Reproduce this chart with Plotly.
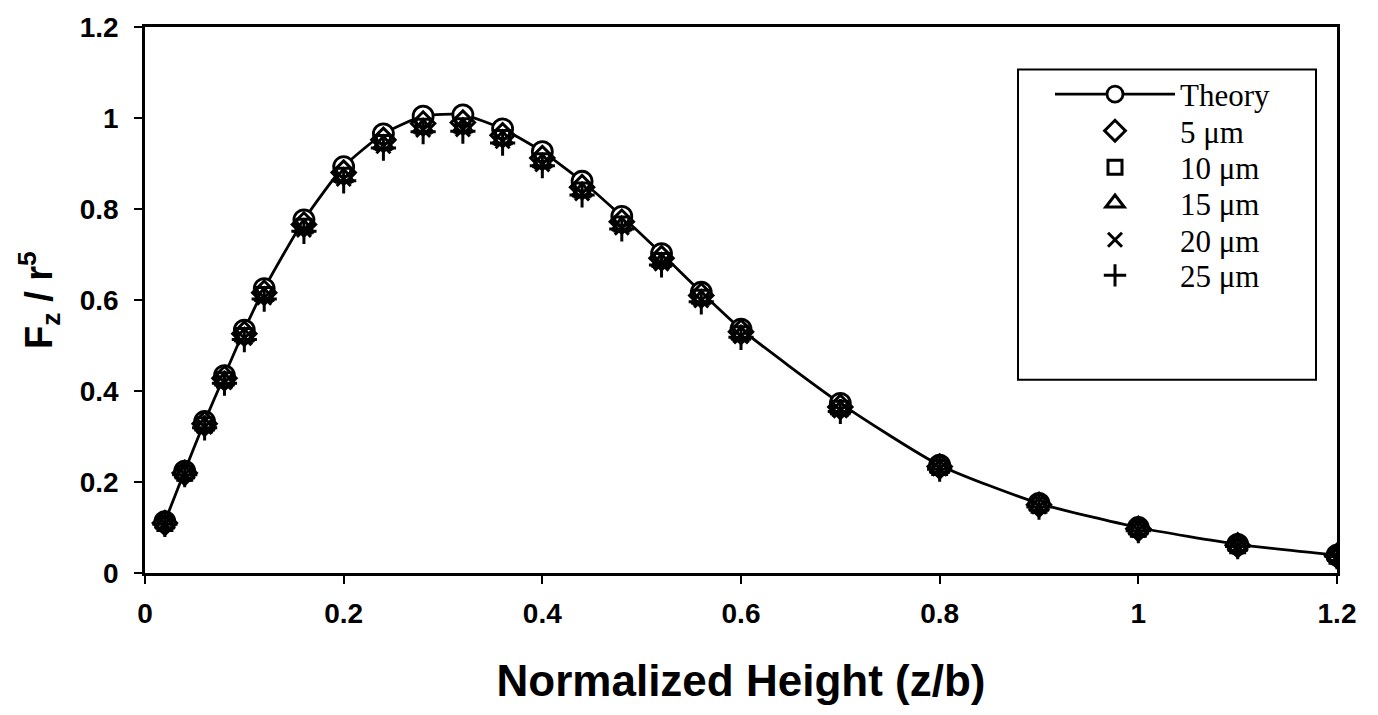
import plotly.graph_objects as go

# Normalized height (z/b)
z_b = [0.02, 0.04, 0.06, 0.08, 0.10, 0.12, 0.16, 0.20, 0.24, 0.28, 0.32, 0.36,
       0.40, 0.44, 0.48, 0.52, 0.56, 0.60, 0.70, 0.80, 0.90, 1.00, 1.10, 1.20]

theory = [0.113, 0.224, 0.333, 0.434, 0.534, 0.625, 0.776, 0.893, 0.965, 1.004,
          1.007, 0.976, 0.926, 0.861, 0.784, 0.702, 0.617, 0.536, 0.373, 0.237,
          0.153, 0.100, 0.063, 0.039]

um5 = [0.110, 0.220, 0.328, 0.428, 0.526, 0.616, 0.766, 0.880, 0.952, 0.988,
       0.990, 0.962, 0.912, 0.848, 0.772, 0.692, 0.610, 0.530, 0.365, 0.234,
       0.150, 0.097, 0.061, 0.038]
um10 = [0.109, 0.219, 0.326, 0.425, 0.522, 0.612, 0.762, 0.874, 0.946, 0.982,
        0.983, 0.957, 0.906, 0.842, 0.767, 0.687, 0.606, 0.526, 0.362, 0.232,
        0.149, 0.096, 0.060, 0.037]
um15 = [0.108, 0.218, 0.323, 0.422, 0.519, 0.608, 0.758, 0.870, 0.942, 0.978,
        0.979, 0.953, 0.902, 0.838, 0.763, 0.683, 0.602, 0.523, 0.359, 0.230,
        0.147, 0.095, 0.059, 0.037]
um20 = [0.108, 0.217, 0.321, 0.419, 0.516, 0.605, 0.754, 0.866, 0.938, 0.974,
        0.975, 0.949, 0.898, 0.834, 0.759, 0.680, 0.599, 0.520, 0.357, 0.229,
        0.146, 0.094, 0.059, 0.036]
um25 = [0.107, 0.216, 0.319, 0.417, 0.513, 0.602, 0.751, 0.862, 0.934, 0.970,
        0.971, 0.945, 0.895, 0.831, 0.756, 0.677, 0.596, 0.518, 0.355, 0.228,
        0.145, 0.093, 0.058, 0.036]

x_ticks = [0, 0.2, 0.4, 0.6, 0.8, 1.0, 1.2]
x_ticklabels = ["0", "0.2", "0.4", "0.6", "0.8", "1", "1.2"]
y_ticks = [0, 0.2, 0.4, 0.6, 0.8, 1.0, 1.2]
y_ticklabels = ["0", "0.2", "0.4", "0.6", "0.8", "1", "1.2"]

series = [
    ("5 \u03bcm", um5, "diamond-open", 18),
    ("10 \u03bcm", um10, "square-open", 14),
    ("15 \u03bcm", um15, "triangle-up-open", 17),
    ("20 \u03bcm", um20, "x-thin-open", 14),
    ("25 \u03bcm", um25, "cross-thin-open", 18),
]

# plot-area pixel geometry (used only to place the legend box in paper coords)
PL, PR, PT, PB = 145, 1337, 22, 573
def px_x(p):
    return (p - PL) / (PR - PL)
def px_y(p):
    return (PB - p) / (PB - PT)

row_px = [90, 127, 164, 200, 237, 273]
legend_names = ["legend", "legend2", "legend3", "legend4", "legend5", "legend6"]

fig = go.Figure()

fig.add_trace(go.Scatter(
    x=z_b, y=theory, name="Theory", mode="lines+markers", legend="legend",
    line=dict(color="black", width=2.8, shape="spline", smoothing=0.6),
    marker=dict(symbol="circle", size=20, color="white",
                line=dict(color="black", width=2.8)),
))

for i, (name, vals, sym, sz) in enumerate(series):
    fig.add_trace(go.Scatter(
        x=z_b, y=vals, name=name, mode="markers", legend=legend_names[i + 1],
        marker=dict(symbol=sym, size=sz, color="black",
                    line=dict(color="black", width=3)),
    ))

fig.add_shape(type="rect", xref="paper", yref="paper",
              x0=px_x(1018), x1=px_x(1316), y0=px_y(378), y1=px_y(65),
              line=dict(color="black", width=2), fillcolor="white", layer="below")

legend_font = dict(family="Liberation Serif, Times New Roman, serif", size=31, color="black")
layout_legends = {}
for ln, rp in zip(legend_names, row_px):
    layout_legends[ln] = dict(
        x=px_x(1050), y=px_y(rp), xanchor="left", yanchor="middle",
        bgcolor="rgba(0,0,0,0)", borderwidth=0, font=legend_font,
        itemwidth=120, tracegroupgap=0,
    )

fig.update_layout(
    width=1378, height=715,
    margin=dict(l=PL, r=1378 - PR, t=PT, b=715 - PB),
    paper_bgcolor="white", plot_bgcolor="white",
    font=dict(family="Liberation Sans, Arial, sans-serif", color="black", size=28),
    showlegend=True,
    xaxis=dict(
        range=[0, 1.2], tickvals=x_ticks, ticktext=x_ticklabels,
        showgrid=False, zeroline=False,
        showline=True, linecolor="black", linewidth=2.5, mirror=True,
        ticks="outside", ticklen=8, tickwidth=2, tickcolor="black",
        tickfont=dict(size=28, weight="bold"), ticklabelstandoff=6,
        title=dict(text="<b>Normalized Height (z/b)</b>",
                   font=dict(size=44), standoff=37),
    ),
    yaxis=dict(
        range=[0, 1.2], tickvals=y_ticks, ticktext=y_ticklabels,
        showgrid=False, zeroline=False,
        showline=True, linecolor="black", linewidth=2.5, mirror=True,
        ticks="outside", ticklen=8, tickwidth=2, tickcolor="black",
        tickfont=dict(size=28, weight="bold"), ticklabelstandoff=10,
        title=dict(text="<b>F<sub>z</sub> / r<sup>5</sup></b>",
                   font=dict(size=38), standoff=16),
    ),
    **layout_legends,
)

fig.write_html("out.html")
